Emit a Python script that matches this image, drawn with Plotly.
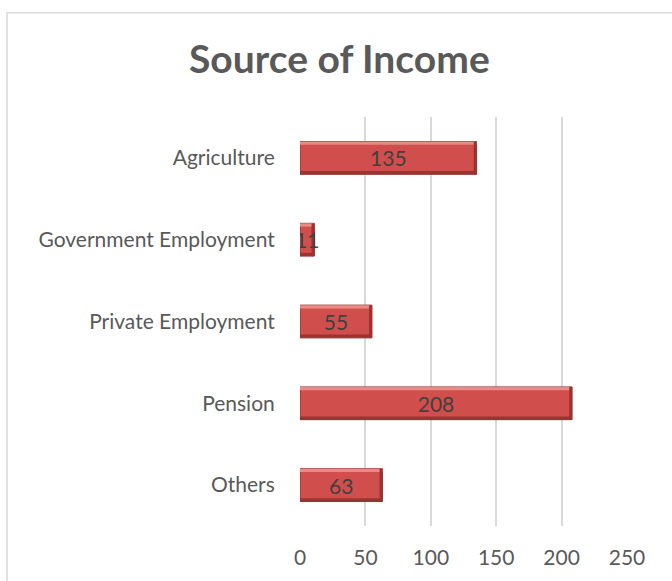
import plotly.graph_objects as go

categories = ["Agriculture", "Government Employment", "Private Employment", "Pension", "Others"]
values = [135, 11, 55, 208, 63]
x_ticks = [0, 50, 100, 150, 200, 250]

FONT = "Lato"
BAR_W = 0.4

fig = go.Figure()
# main bar body
fig.add_trace(go.Bar(
    y=categories, x=values, orientation="h",
    width=BAR_W,
    marker=dict(color="#D04F4C", line=dict(color="#8E2F2D", width=1)),
    hoverinfo="skip",
))
# bevel highlight (top) and shadow (bottom)
fig.add_trace(go.Bar(
    y=categories, x=values, orientation="h",
    width=0.04, offset=-BAR_W / 2,
    marker=dict(color="#E98A87", line=dict(width=0)),
    hoverinfo="skip",
))
fig.add_trace(go.Bar(
    y=categories, x=values, orientation="h",
    width=0.04, offset=BAR_W / 2 - 0.04,
    marker=dict(color="#9C3331", line=dict(width=0)),
    hoverinfo="skip",
))
# right-end bevel
fig.add_trace(go.Bar(
    y=categories, x=[2.2] * len(values), base=[v - 2.2 for v in values],
    orientation="h", width=BAR_W,
    marker=dict(color="#9A3230", line=dict(width=0)),
    hoverinfo="skip",
))
# value labels
fig.add_trace(go.Bar(
    y=categories, x=values, orientation="h",
    width=BAR_W,
    marker=dict(color="rgba(0,0,0,0)", line=dict(width=0)),
    text=[str(v) for v in values],
    textposition="inside", insidetextanchor="middle",
    constraintext="none",
    textfont=dict(family=FONT, size=21, color="#404040"),
    hoverinfo="skip",
))

fig.update_layout(
    width=672, height=581,
    barmode="overlay",
    margin=dict(l=300, r=45, t=117, b=55),
    paper_bgcolor="white", plot_bgcolor="white",
    showlegend=False,
    title=dict(text="<b>Source of Income</b>", x=0.505, xanchor="center",
               y=0.897, yanchor="middle",
               font=dict(family=FONT, size=39, color="#595959")),
    xaxis=dict(range=[0, 250], tickvals=x_ticks, showgrid=True,
               gridcolor="#D9D9D9", gridwidth=1.5, zeroline=False,
               showline=False, ticks="outside", ticklen=13, tickcolor="rgba(0,0,0,0)",
               tickfont=dict(family=FONT, size=21, color="#595959")),
    yaxis=dict(autorange="reversed", showgrid=False, zeroline=False, showline=False,
               ticks="outside", ticklen=20, tickcolor="rgba(0,0,0,0)",
               tickfont=dict(family=FONT, size=21, color="#595959")),
    shapes=[dict(type="rect", xref="paper", yref="paper",
                 x0=-0.896, x1=1.3, y0=-0.3, y1=1.255,
                 line=dict(color="#D9D9D9", width=1.5), fillcolor="rgba(0,0,0,0)",
                 layer="below")],
)

fig.write_html("out.html")
